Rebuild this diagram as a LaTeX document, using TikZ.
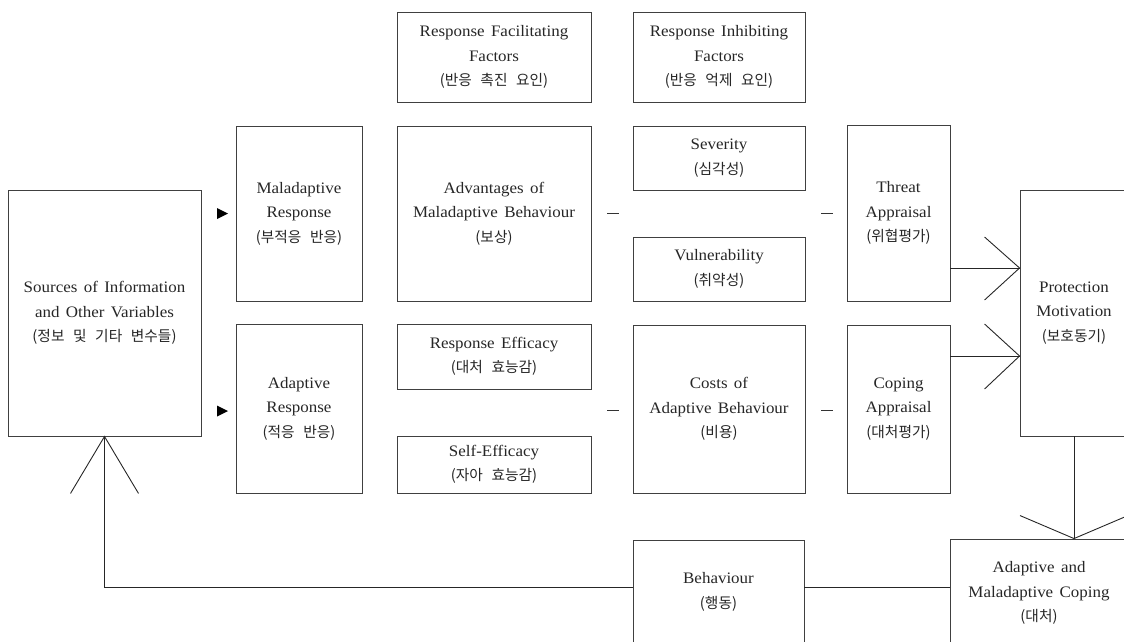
\documentclass[tikz,border=0pt]{standalone}
\usepackage{fontspec}
\setmainfont[FakeStretch=1.06,WordSpace=1.5]{Liberation Serif}
\newfontfamily\kr[Scale=0.92,WordSpace=2.6]{Noto Sans CJK KR}
\usetikzlibrary{calc}
\begin{document}
\begin{tikzpicture}[x=1pt,y=-1pt,
  box/.style={draw=black!75, line width=0.9pt, inner sep=0pt, align=center,
    font=\fontsize{16}{24.5}\selectfont, text=black!85},
  conn/.style={draw=black!85, line width=0.9pt},
  tick/.style={draw=black!80, line width=0.9pt}]
\useasboundingbox (0,0) rectangle (1124,641);
% boxes
\node[box, minimum width=193pt, minimum height=246pt] (src) at (104.5,313)
  {Sources of Information\\and Other Variables\\{\kr (정보 및 기타 변수들)}};
\node[box, minimum width=126pt, minimum height=175pt] (mal) at (299,213.5)
  {Maladaptive\\Response\\{\kr (부적응 반응)}};
\node[box, minimum width=126pt, minimum height=169pt] (adp) at (299,408.5)
  {Adaptive\\Response\\{\kr (적응 반응)}};
\node[box, minimum width=194pt, minimum height=90pt] (fac) at (494,57)
  {Response Facilitating\\Factors\\{\kr (반응 촉진 요인)}};
\node[box, minimum width=172pt, minimum height=90pt] (inh) at (719,57)
  {Response Inhibiting\\Factors\\{\kr (반응 억제 요인)}};
\node[box, minimum width=194pt, minimum height=175pt] (adv) at (494,213.5)
  {Advantages of\\Maladaptive Behaviour\\{\kr (보상)}};
\node[box, minimum width=194pt, minimum height=65pt] (ref) at (494,356.5)
  {Response Efficacy\\{\kr (대처 효능감)}};
\node[box, minimum width=194pt, minimum height=57pt] (self) at (494,464.5)
  {Self-Efficacy\\{\kr (자아 효능감)}};
\node[box, minimum width=172pt, minimum height=64pt] (sev) at (719,158)
  {Severity\\{\kr (심각성)}};
\node[box, minimum width=172pt, minimum height=64pt] (vul) at (719,269)
  {Vulnerability\\{\kr (취약성)}};
\node[box, minimum width=172pt, minimum height=168pt] (cost) at (719,409)
  {Costs of\\Adaptive Behaviour\\{\kr (비용)}};
\node[box, minimum width=103pt, minimum height=176pt] (ta) at (898.5,213)
  {Threat\\Appraisal\\{\kr (위협평가)}};
\node[box, minimum width=103pt, minimum height=168pt] (ca) at (898.5,409)
  {Coping\\Appraisal\\{\kr (대처평가)}};
\node[box, minimum width=108pt, minimum height=246pt] (pm) at (1074,313)
  {Protection\\Motivation\\{\kr (보호동기)}};
\node[box, minimum width=171pt, minimum height=104pt] (beh) at (718.5,592)
  {Behaviour\\{\kr (행동)}};
\node[box, minimum width=178pt, minimum height=108pt] (cope) at (1039,593)
  {Adaptive and\\Maladaptive Coping\\{\kr (대처)}};
% helper coordinates
\coordinate (bl) at (0,587);
\coordinate (a1) at (0,268);
\coordinate (a2) at (0,356);
% connectors to protection motivation
\draw[conn] (ta.east |- a1) -- (pm.west |- a1);
\draw[conn] ($(pm.west |- a1)+(-35,-31)$) -- (pm.west |- a1) -- ($(pm.west |- a1)+(-35,32)$);
\draw[conn] (ca.east |- a2) -- (pm.west |- a2);
\draw[conn] ($(pm.west |- a2)+(-35,-32)$) -- (pm.west |- a2) -- ($(pm.west |- a2)+(-35,33)$);
% protection motivation to coping
\draw[conn] (pm.south) -- (pm.south |- cope.north);
\draw[conn] ($(pm.south |- cope.north)+(-54,-23)$) -- (pm.south |- cope.north) -- ($(pm.south |- cope.north)+(54,-23)$);
% coping to behaviour to sources
\draw[conn] (cope.west |- bl) -- (beh.east |- bl);
\draw[conn] (beh.west |- bl) -| (src.south);
\draw[conn] ($(src.south)+(-34,57)$) -- (src.south) -- ($(src.south)+(34,57)$);
% filled triangles
\fill[black] (217,208) -- (228,213.5) -- (217,219) -- cycle;
\fill[black] (217,405.5) -- (228,411) -- (217,416.5) -- cycle;
% small dashes
\draw[tick] (607,213) -- (619,213);
\draw[tick] (607,410) -- (619,410);
\draw[tick] (821,213) -- (833,213);
\draw[tick] (821,410) -- (833,410);
\end{tikzpicture}
\end{document}
